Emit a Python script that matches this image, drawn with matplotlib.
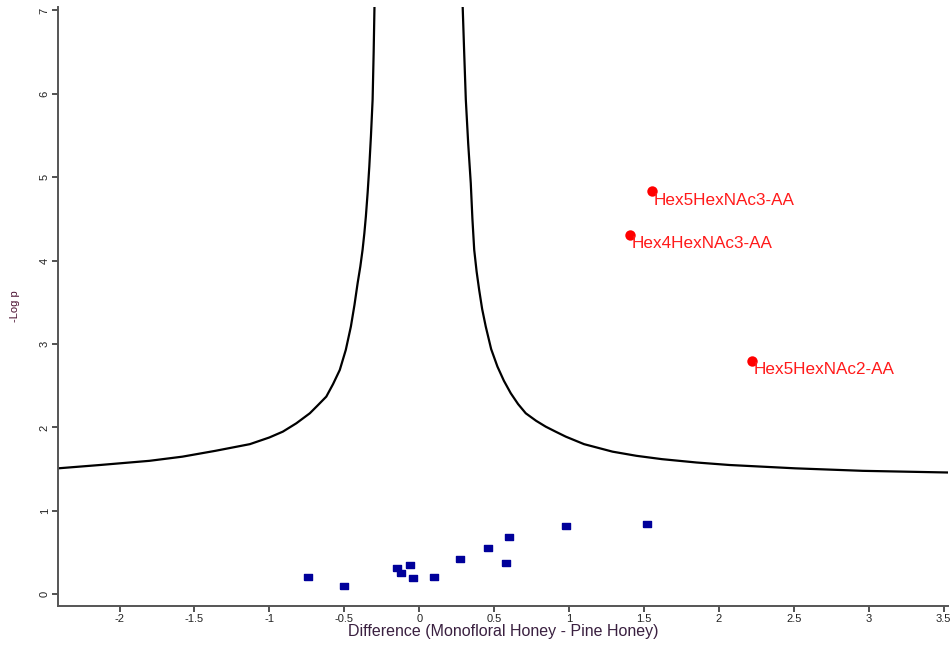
import numpy as np
import matplotlib
matplotlib.use("Agg")
import matplotlib.pyplot as plt

plt.rcParams['font.family'] = ['Liberation Sans', 'DejaVu Sans']

# non-significant glycans (blue squares)
ns_diff = [-0.74, -0.50, -0.15, -0.12, -0.06, -0.04, 0.10, 0.27, 0.46, 0.58, 0.60, 0.98, 1.52]
ns_logp = [0.21, 0.10, 0.32, 0.26, 0.35, 0.20, 0.21, 0.42, 0.56, 0.38, 0.69, 0.82, 0.84]

# significant glycans (red dots)
sig_names = ["Hex5HexNAc3-AA", "Hex4HexNAc3-AA", "Hex5HexNAc2-AA"]
sig_diff = [1.556, 1.407, 2.22]
sig_logp = [4.83, 4.31, 2.80]

# significance threshold curve
left_x = [-2.41, -2.13, -1.80, -1.58, -1.36, -1.13, -1.00, -0.91, -0.82, -0.73,
          -0.68, -0.62, -0.575, -0.53, -0.49, -0.456, -0.432, -0.411, -0.393,
          -0.378, -0.366, -0.356, -0.344, -0.333, -0.322, -0.311, -0.304, -0.298]
left_y = [1.51, 1.55, 1.60, 1.65, 1.72, 1.80, 1.88, 1.95, 2.05, 2.17,
          2.26, 2.37, 2.52, 2.69, 2.93, 3.21, 3.47, 3.73, 3.93,
          4.13, 4.33, 4.53, 4.82, 5.13, 5.50, 5.93, 6.50, 7.10]
right_x = [0.289, 0.300, 0.311, 0.327, 0.344, 0.355, 0.367, 0.383, 0.40, 0.42,
           0.444, 0.48, 0.522, 0.565, 0.611, 0.66, 0.711, 0.78, 0.844, 0.91,
           0.978, 1.10, 1.29, 1.45, 1.62, 1.85, 2.07, 2.51, 2.96, 3.53]
right_y = [7.10, 6.50, 5.93, 5.40, 4.93, 4.50, 4.13, 3.87, 3.65, 3.42,
           3.21, 2.94, 2.73, 2.56, 2.41, 2.28, 2.17, 2.08, 2.01, 1.95,
           1.89, 1.80, 1.71, 1.66, 1.62, 1.58, 1.55, 1.51, 1.48, 1.46]

fig = plt.figure(figsize=(9.52, 6.46), dpi=100)
ax = fig.add_axes([0.061, 0.062, 0.935, 0.927])

ax.plot(left_x, left_y, color="black", lw=1.6, solid_joinstyle="round")
ax.plot(right_x, right_y, color="black", lw=1.6, solid_joinstyle="round")

rect = [(-1.4, -1), (1.4, -1), (1.4, 1), (-1.4, 1), (-1.4, -1)]
ax.plot(ns_diff, ns_logp, linestyle="none", marker=rect, markersize=5.5,
        color="#00009a")

ax.plot(sig_diff, sig_logp, linestyle="none", marker="o", markersize=7.5,
        color="#ff0000", markeredgewidth=0)
for name, x, y in zip(sig_names, sig_diff, sig_logp):
    ax.annotate(name, (x, y), xytext=(1, -6.5), textcoords="offset points",
                color="#ff1a1a", fontsize=12.3, ha="left", va="center")

ax.set_xlim(-2.41, 3.53)
ax.set_ylim(-0.14, 7.04)
ax.set_xticks([-2, -1.5, -1, -0.5, 0, 0.5, 1, 1.5, 2, 2.5, 3, 3.5])
ax.set_xticklabels(["-2", "-1.5", "-1", "-0.5", "0", "0.5", "1", "1.5", "2", "2.5", "3", "3.5"])
ax.set_yticks(range(0, 8))

for side in ["top", "right"]:
    ax.spines[side].set_visible(False)
for side in ["left", "bottom"]:
    ax.spines[side].set_color("#555555")
    ax.spines[side].set_linewidth(1.4)

ax.tick_params(axis="both", direction="out", length=4, width=1.2,
               color="#333333", labelsize=8, labelcolor="#222222")
ax.tick_params(axis="x", pad=2)
ax.tick_params(axis="y", pad=2)
for lbl in ax.get_yticklabels():
    lbl.set_rotation(90)
    lbl.set_va("center")

ax.set_xlabel("Difference (Monofloral Honey - Pine Honey)", fontsize=11.5,
              color="#3a2040", labelpad=0)
ax.set_ylabel("-Log p", fontsize=8, color="#4a1030", labelpad=14)

fig.savefig("out.png", dpi=100)
